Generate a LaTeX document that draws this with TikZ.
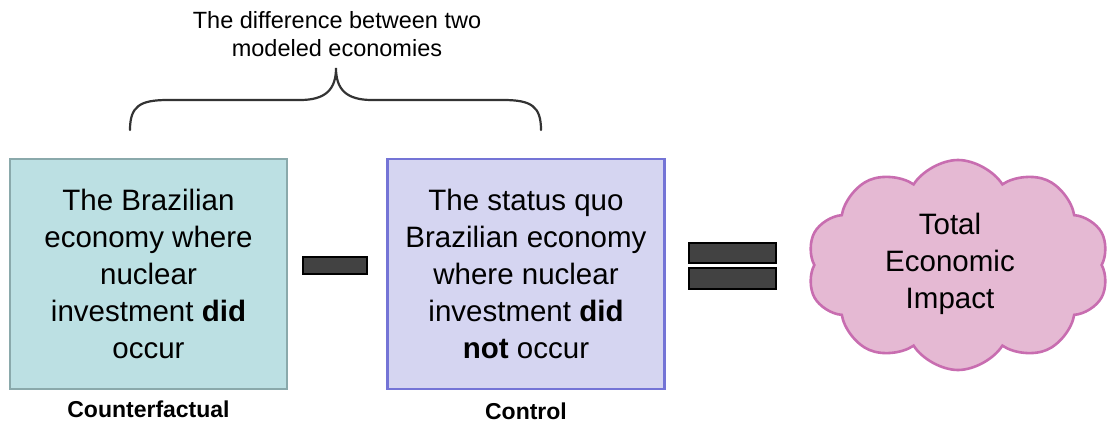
\documentclass[tikz,border=0pt]{standalone}
\usepackage{fontspec}
\setmainfont{Liberation Sans}
\usetikzlibrary{shapes.symbols}
\definecolor{cfFill}{HTML}{BCE0E3}
\definecolor{cfLine}{HTML}{8AA9AB}
\definecolor{ctFill}{HTML}{D5D5F1}
\definecolor{ctLine}{HTML}{7474D6}
\definecolor{clFill}{HTML}{E5B9D3}
\definecolor{clLine}{HTML}{C86DB0}
\definecolor{opFill}{HTML}{424242}
\definecolor{braceCol}{HTML}{333333}
\tikzset{
  econbox/.style={draw, line width=2.6pt, minimum width=277pt, minimum height=230pt,
    align=center, inner sep=0pt,
    font=\fontsize{29.5}{37}\selectfont},
  caption/.style={font=\fontsize{23}{27}\selectfont\bfseries, inner sep=0pt},
  opbar/.style={draw=black, fill=opFill, line width=1.8pt},
}
\begin{document}
\begin{tikzpicture}[x=1pt, y=-1pt]
\useasboundingbox (0,0) rectangle (1109,423);

% heading above the brace
\node[font=\fontsize{23.5}{27.5}\selectfont, align=center, inner sep=0pt] (head) at (337,34)
  {The difference between two\\modeled economies};

% curly brace spanning both economies
\coordinate (bl) at (130,130);
\coordinate (br) at (541,130);
\coordinate (tip) at (336,68);
\draw[braceCol, line width=2.2pt, line cap=round]
  (bl) .. controls (130,106) and (140,100) .. (168,100) -- (300,100)
       .. controls (325,100) and (336,90) .. (tip)
       .. controls (336,90) and (347,100) .. (372,100) -- (503,100)
       .. controls (531,100) and (541,106) .. (br);

% the two modeled economies
\node[econbox, draw=cfLine, fill=cfFill] (cf) at (148.5,274)
  {The Brazilian\\economy where\\nuclear\\investment \textbf{did}\\occur};
\node[econbox, draw=ctLine, fill=ctFill] (ct) at (526,274)
  {The status quo\\Brazilian economy\\where nuclear\\investment \textbf{did}\\\textbf{not} occur};

\node[caption] (cfl) at (148.5,409) {Counterfactual};
\node[caption] (ctl) at (526,411) {Control};

% minus and equals signs
\path[opbar] (303,257) rectangle (367,274);
\path[opbar] (689,243) rectangle (776,263);
\path[opbar] (689,268) rectangle (776,289);

% result
\node[cloud, cloud puffs=10, cloud puff arc=115, cloud ignores aspect,
      minimum width=302pt, minimum height=210pt,
      draw=clLine, fill=clFill, line width=2.6pt] (impact) at (958,265) {};
\node[align=center, inner sep=0pt, font=\fontsize{29.5}{37}\selectfont] (impactText)
  at (950,264) {Total\\Economic\\Impact};
\end{tikzpicture}
\end{document}
